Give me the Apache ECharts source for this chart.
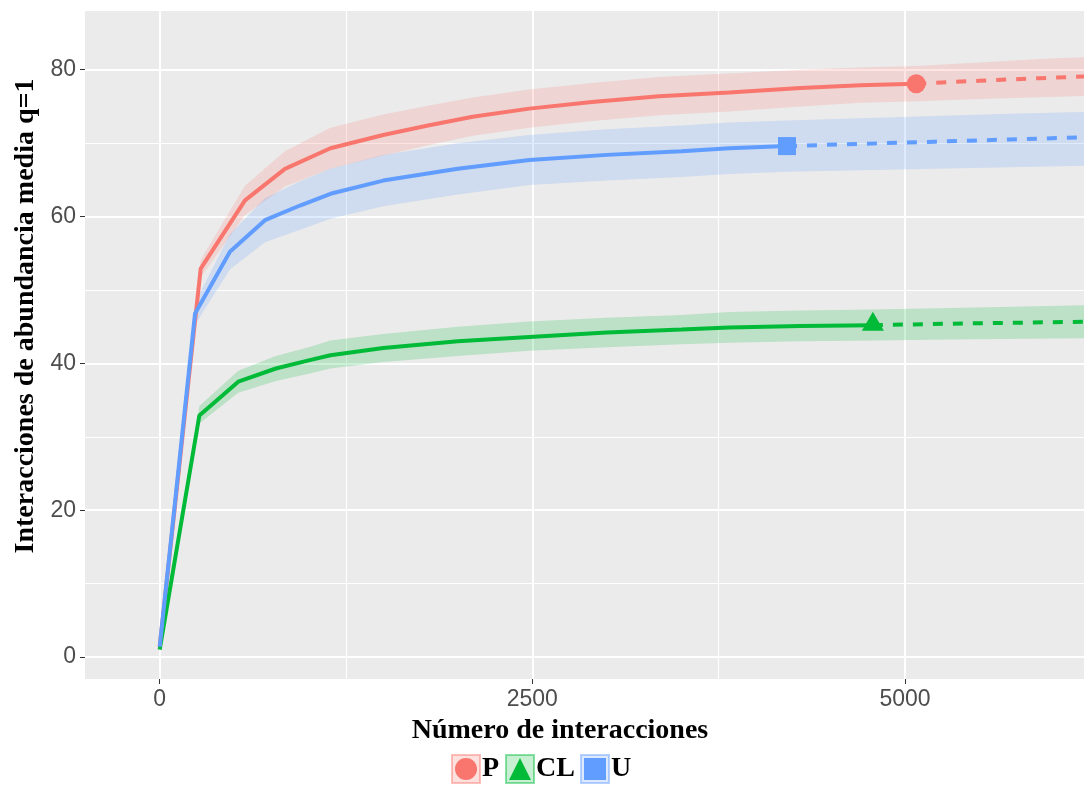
<!DOCTYPE html>
<html><head><meta charset="utf-8">
<script src="https://cdn.jsdelivr.net/npm/echarts@6/dist/echarts.min.js"></script>
<style>html,body{margin:0;padding:0;background:#fff}#chart{width:1084px;height:791px}</style>
</head><body><div id="chart"></div>
<script>
// ---- data ----
const groupNames = ['P', 'CL', 'U'];

const pX  = [1, 276, 573, 841, 1146, 1500, 1800, 2100, 2480, 2900, 3350, 3820, 4300, 4700, 5075, 5500, 5900, 6300];
const pY  = [1.4, 52.9, 62.2, 66.5, 69.3, 71.1, 72.4, 73.6, 74.7, 75.6, 76.4, 76.9, 77.5, 77.9, 78.1, 78.5, 78.85, 79.15];
const pLo = [1.4, 51.7, 60.2, 64.1, 66.5, 68.3, 69.7, 71.0, 72.1, 73.0, 73.8, 74.3, 75.0, 75.5, 75.7, 76.0, 76.25, 76.5];
const pHi = [1.4, 54.1, 64.2, 68.9, 72.1, 73.9, 75.1, 76.2, 77.3, 78.2, 79.0, 79.5, 80.0, 80.3, 80.5, 81.0, 81.45, 81.8];
const pObs = 5075;

const cX  = [1, 267, 528, 780, 1000, 1146, 1500, 2000, 2480, 3000, 3500, 3820, 4300, 4784, 5300, 5800, 6300];
const cY  = [1.0, 32.9, 37.5, 39.3, 40.4, 41.1, 42.1, 43.0, 43.6, 44.2, 44.6, 44.9, 45.1, 45.2, 45.4, 45.55, 45.7];
const cLo = [1.0, 31.8, 36.0, 37.6, 38.6, 39.3, 40.2, 41.0, 41.7, 42.2, 42.6, 42.8, 43.0, 43.1, 43.25, 43.35, 43.45];
const cHi = [1.0, 34.2, 39.0, 41.0, 42.2, 43.1, 44.0, 45.0, 45.7, 46.2, 46.6, 47.0, 47.2, 47.35, 47.55, 47.75, 47.95];
const cObs = 4784;

const uX  = [1, 238, 472, 707, 942, 1146, 1500, 2000, 2480, 3000, 3500, 3820, 4208, 4700, 5200, 5700, 6300];
const uY  = [1.4, 46.8, 55.2, 59.5, 61.5, 63.1, 64.9, 66.5, 67.7, 68.4, 68.9, 69.3, 69.6, 69.9, 70.2, 70.5, 70.85];
const uLo = [1.4, 45.3, 52.8, 56.5, 58.2, 59.7, 61.4, 63.0, 64.3, 64.9, 65.4, 65.8, 66.1, 66.3, 66.5, 66.7, 66.95];
const uHi = [1.4, 48.3, 57.6, 62.5, 64.8, 66.5, 68.4, 70.0, 71.1, 71.9, 72.4, 72.8, 73.1, 73.4, 73.7, 74.0, 74.3];
const uObs = 4208;

const xTicks = [0, 2500, 5000];
const xMinor = [1250, 3750];
const yTicks = [0, 20, 40, 60, 80];
const yMinor = [10, 30, 50, 70];

const xTitle = 'Número de interacciones';
const yTitle = 'Interacciones de abundancia media q=1';

// ---- styling ----
const groups = [
  {name: 'P',  color: '#F8766D', rgb: '248,118,109', x: pX, y: pY, lo: pLo, hi: pHi, obs: pObs, symbol: 'circle',   size: 19, off: [0, 0]},
  {name: 'CL', color: '#00BA38', rgb: '0,186,56',    x: cX, y: cY, lo: cLo, hi: cHi, obs: cObs, symbol: 'triangle', size: [22, 19], off: [0, -4]},
  {name: 'U',  color: '#619CFF', rgb: '97,156,255',  x: uX, y: uY, lo: uLo, hi: uHi, obs: uObs, symbol: 'rect',     size: 18, off: [0, 0]}
];

const serifBold = {fontFamily: '"Liberation Serif", "Times New Roman", serif', fontWeight: 'bold', fontSize: 28, color: '#000'};
const tickFont = {fontFamily: '"Liberation Sans", Arial, sans-serif', fontSize: 23, color: '#4D4D4D'};

const series = [];
// gridlines (major + minor) via markLine
series.push({
  type: 'line', data: [], silent: true, z: 1,
  markLine: {
    silent: true, symbol: 'none', z: 1, animation: false,
    label: {show: false},
    data: [
      ...xTicks.map(v => ({xAxis: v, lineStyle: {color: '#FFFFFF', width: 2, type: 'solid'}})),
      ...xMinor.map(v => ({xAxis: v, lineStyle: {color: '#FFFFFF', width: 1.1, type: 'solid'}})),
      ...yTicks.map(v => ({yAxis: v, lineStyle: {color: '#FFFFFF', width: 2, type: 'solid'}})),
      ...yMinor.map(v => ({yAxis: v, lineStyle: {color: '#FFFFFF', width: 1.1, type: 'solid'}}))
    ]
  }
});
// ribbons (confidence bands) as one polygon per group
groups.forEach(g => {
  series.push({
    name: g.name + ' band', type: 'custom', silent: true, z: 2, clip: true,
    data: g.x.map((v, i) => [v, g.lo[i], g.hi[i]]),
    encode: {x: 0, y: [1, 2]},
    renderItem: (params, api) => {
      if (params.dataIndex !== 0) return null;
      const upper = g.x.map((v, i) => api.coord([v, g.hi[i]]));
      const lower = g.x.map((v, i) => api.coord([v, g.lo[i]])).reverse();
      return {
        type: 'polygon',
        shape: {points: upper.concat(lower)},
        style: {fill: 'rgba(' + g.rgb + ',0.2)', stroke: null}
      };
    }
  });
});
// lines + markers
groups.forEach(g => {
  const obsIdx = g.x.indexOf(g.obs);
  series.push({
    name: g.name, type: 'line', symbol: 'none', z: 3, color: g.color,
    data: g.x.slice(0, obsIdx + 1).map((v, i) => [v, g.y[i]]),
    lineStyle: {color: g.color, width: 4}
  });
  series.push({
    name: g.name + ' extrapolated', type: 'line', symbol: 'none', z: 3,
    data: g.x.slice(obsIdx).map((v, i) => [v, g.y[obsIdx + i]]),
    lineStyle: {color: g.color, width: 4, type: [10, 10]}
  });
  series.push({
    name: g.name + ' observed', type: 'scatter', z: 4,
    symbol: g.symbol, symbolSize: g.size, symbolOffset: g.off,
    data: [[g.x[obsIdx], g.y[obsIdx]]], itemStyle: {color: g.color, opacity: 1}
  });
});

const legendLefts = [455, 509, 584];
const legends = groups.map((g, i) => ({
  data: [{name: g.name, icon: g.symbol, itemStyle: {color: g.color}}],
  left: legendLefts[i], top: 755, padding: 0,
  itemWidth: 22, itemHeight: 22, selectedMode: false,
  textStyle: serifBold
}));
const boxes = groups.map((g, i) => ({
  type: 'rect', z: 1, silent: true,
  shape: {x: legendLefts[i] - 3, y: 755, width: 28, height: 28},
  style: {fill: 'rgba(' + g.rgb + ',0.22)', stroke: 'rgba(' + g.rgb + ',0.45)', lineWidth: 2}
}));

const hiddenAxisLine = {show: true, onZero: false, lineStyle: {color: '#333333', opacity: 0}};

const chart = echarts.init(document.getElementById('chart'), null, {renderer: 'canvas'});
chart.setOption({
  animation: false,
  backgroundColor: '#FFFFFF',
  grid: {left: 85, right: 0, top: 11, bottom: 112, show: true, backgroundColor: '#EBEBEB', borderWidth: 0},
  xAxis: {
    type: 'value', min: -500, max: 6200,
    name: xTitle, nameLocation: 'middle', nameGap: 38,
    nameTextStyle: Object.assign({padding: [0, 49, 0, 0]}, serifBold),
    axisLine: hiddenAxisLine,
    axisTick: {show: true, inside: false, length: 5, customValues: xTicks, lineStyle: {color: '#333333', width: 1, opacity: 1}},
    axisLabel: Object.assign({customValues: xTicks, margin: 9, formatter: v => String(v)}, tickFont),
    splitLine: {show: false}
  },
  yAxis: {
    type: 'value', min: -3, max: 88,
    name: yTitle, nameLocation: 'middle', nameGap: 43,
    nameTextStyle: Object.assign({padding: [0, 0, 0, 58]}, serifBold),
    axisLine: hiddenAxisLine,
    axisTick: {show: true, inside: false, length: 5, customValues: yTicks, lineStyle: {color: '#333333', width: 1, opacity: 1}},
    axisLabel: Object.assign({customValues: yTicks, margin: 9, formatter: v => String(v)}, tickFont),
    splitLine: {show: false}
  },
  legend: legends,
  graphic: boxes,
  series: series
});
</script>
</body></html>
